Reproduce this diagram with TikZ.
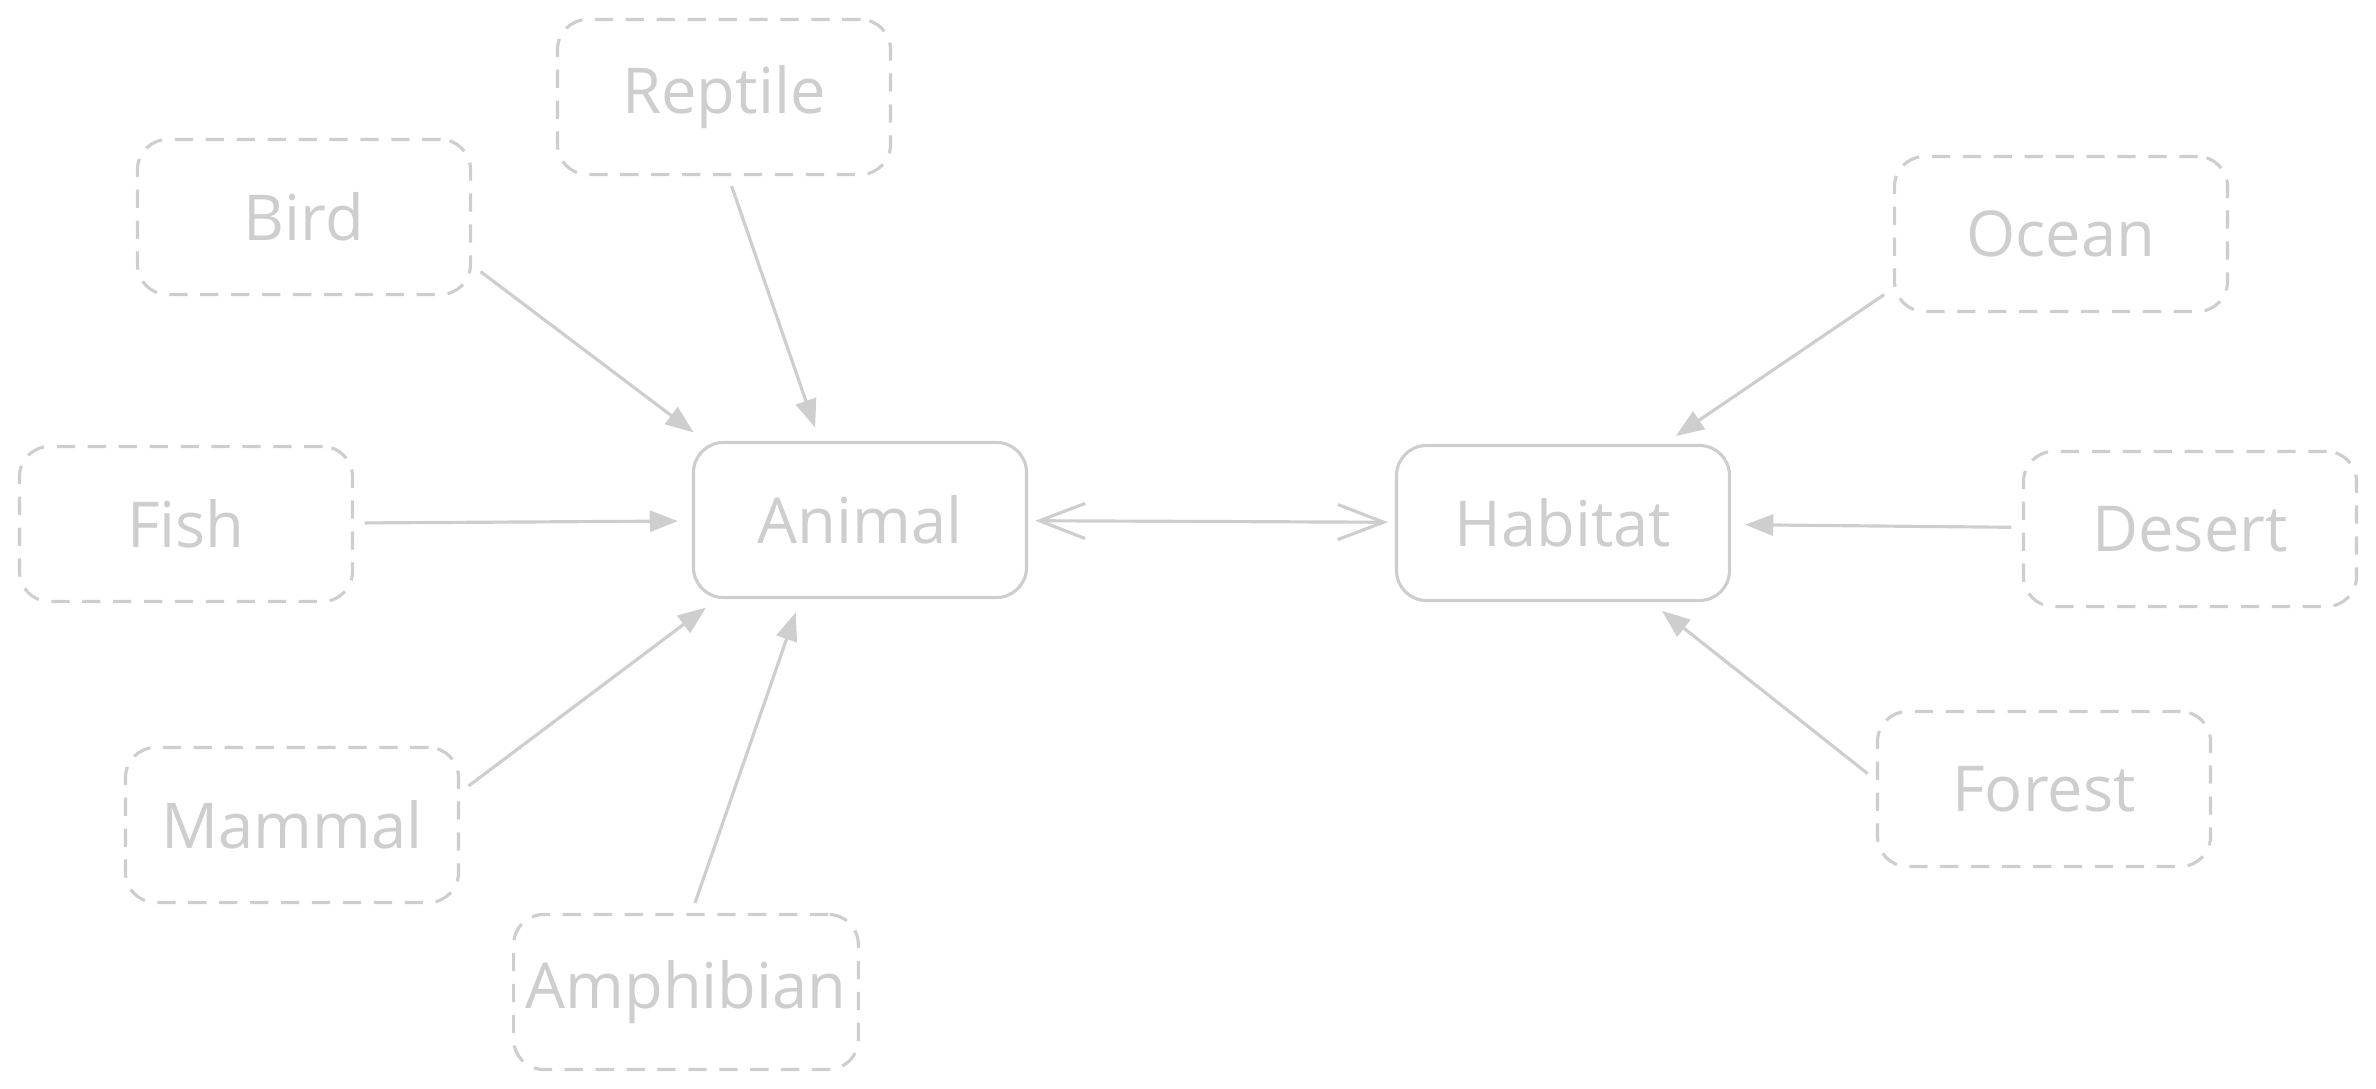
\documentclass[tikz,border=0pt]{standalone}
\usepackage{fontspec}
\setmainfont{Open Sans}
\usepackage{tikz}
\usetikzlibrary{positioning, shapes}
\usetikzlibrary{arrows.meta}
\definecolor{sketch}{RGB}{206,206,206}

\begin{document}
\begin{tikzpicture}
        \tikzset{box/.style = {draw=sketch, text=sketch, line width=0.9pt, rounded corners=0.3cm, minimum width=3.33cm, minimum height=1.55cm, font=\fontsize{18}{22}\selectfont}}
        \tikzset{dashbox/.style = {box, dash pattern=on 5.2pt off 3.6pt}}
        \tikzset{arr/.style = {draw=sketch, line width=0.9pt, -{Triangle[length=8pt, width=6pt]}, shorten <=3pt, shorten >=4pt}}
        \tikzset{twoway/.style = {draw=sketch, line width=0.9pt, {Straight Barb[length=13pt, width=10pt]}-{Straight Barb[length=13pt, width=10pt]}, shorten <=2pt, shorten >=2pt}}

        \useasboundingbox (0,0) rectangle (23.76,10.88);

        \node[box] (animal) at (8.60,5.68) {Animal};
        \node[box] (habitat) at (15.63,5.65) {Habitat};

        \node[dashbox] (reptile) at (7.24,9.91) {Reptile};
        \node[dashbox] (bird) at (3.04,8.71) {Bird};
        \node[dashbox] (fish) at (1.86,5.64) {Fish};
        \node[dashbox] (mammal) at (2.92,2.63) {Mammal};
        \node[dashbox] (amphibian) at (6.86,0.96) {Amphibian};

        \node[dashbox] (ocean) at (20.61,8.54) {Ocean};
        \node[dashbox] (desert) at (21.90,5.59) {Desert};
        \node[dashbox] (forest) at (20.44,2.99) {Forest};

        \draw[arr] (reptile.-87) -- (animal.117);
        \draw[arr] (bird.-16) -- (animal.153);
        \draw[arr] (fish) -- (animal);
        \draw[arr] (mammal.11) -- (animal.209);
        \draw[arr] (amphibian.86) -- (animal.233);

        \draw[twoway] (animal) -- (habitat);

        \draw[arr] (ocean.198) -- (habitat.38);
        \draw[arr] (desert) -- (habitat);
        \draw[arr] (forest.177) -- (habitat.-42);

        \end{tikzpicture}
\end{document}
